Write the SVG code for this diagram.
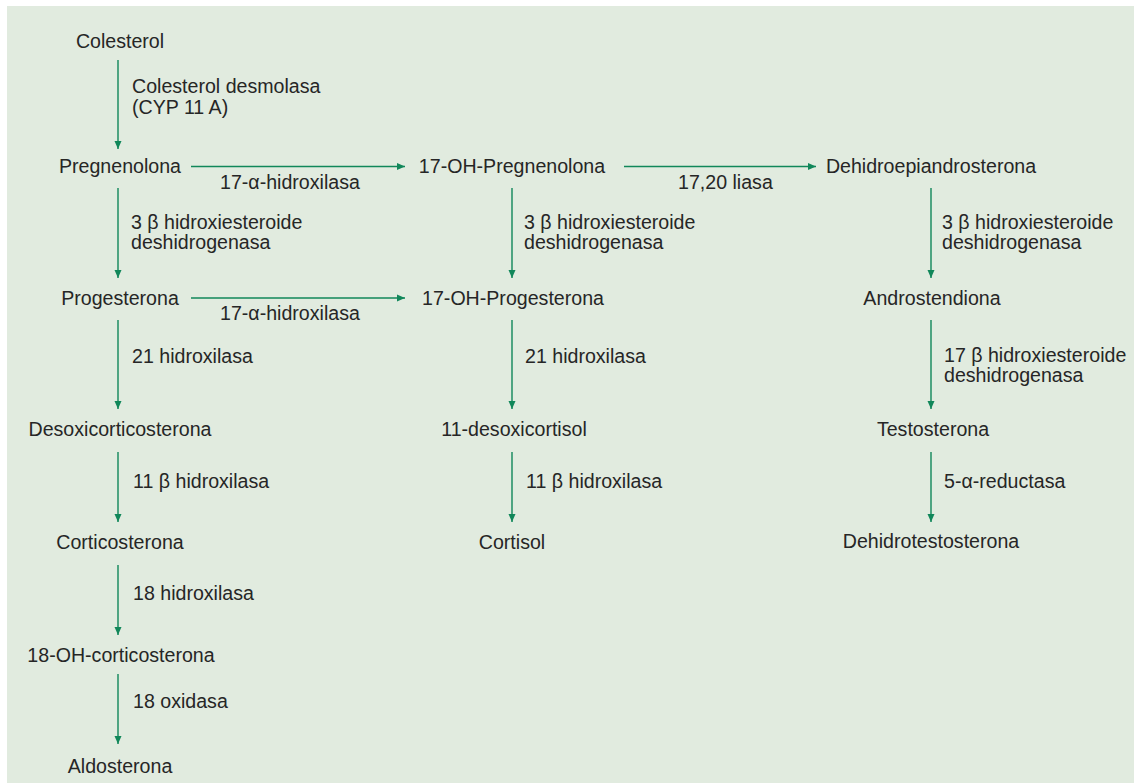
<svg xmlns="http://www.w3.org/2000/svg" width="1134" height="783" viewBox="0 0 1134 783">
<style>
  .n { font-family: "Liberation Sans", Arial, sans-serif; font-size: 19.6px; fill: #262626; text-anchor: middle; }
  .l { font-family: "Liberation Sans", Arial, sans-serif; font-size: 19.6px; fill: #262626; }
  .c { stroke: #11875a; stroke-width: 1.4; fill: none; marker-end: url(#ah); }
</style>
<defs>
  <marker id="ah" markerUnits="userSpaceOnUse" markerWidth="10" markerHeight="10" viewBox="0 0 10 10" refX="9" refY="5" orient="auto">
    <path d="M1,1.5 L9,5 L1,8.5 Z" fill="#11875a"/>
  </marker>
</defs>
<rect x="7" y="6" width="1127" height="777" fill="#e1ebdf"/>
<g id="connectors">
  <line class="c" x1="118" y1="60" x2="118" y2="149"/>
  <line class="c" x1="118" y1="188" x2="118" y2="278"/>
  <line class="c" x1="118" y1="320" x2="118" y2="409"/>
  <line class="c" x1="118" y1="452" x2="118" y2="522"/>
  <line class="c" x1="118" y1="565" x2="118" y2="635"/>
  <line class="c" x1="118" y1="674" x2="118" y2="744"/>
  <line class="c" x1="512" y1="188" x2="512" y2="278"/>
  <line class="c" x1="512" y1="320" x2="512" y2="409"/>
  <line class="c" x1="512" y1="452" x2="512" y2="522"/>
  <line class="c" x1="931" y1="188" x2="931" y2="278"/>
  <line class="c" x1="931" y1="320" x2="931" y2="409"/>
  <line class="c" x1="931" y1="452" x2="931" y2="522"/>
  <line class="c" x1="191" y1="166.5" x2="405" y2="166.5"/>
  <line class="c" x1="191" y1="298" x2="405" y2="298"/>
  <line class="c" x1="624" y1="166.5" x2="816" y2="166.5"/>
  <text class="l" x="132" y="93">Colesterol desmolasa</text>
  <text class="l" x="132" y="114">(CYP 11 A)</text>
  <text class="l" x="220" y="189">17-α-hidroxilasa</text>
  <text class="l" x="220" y="320">17-α-hidroxilasa</text>
  <text class="l" x="678" y="189">17,20 liasa</text>
  <text class="l" x="131" y="229">3 β hidroxiesteroide</text>
  <text class="l" x="131" y="249">deshidrogenasa</text>
  <text class="l" x="524" y="229">3 β hidroxiesteroide</text>
  <text class="l" x="524" y="249">deshidrogenasa</text>
  <text class="l" x="942" y="229">3 β hidroxiesteroide</text>
  <text class="l" x="942" y="249">deshidrogenasa</text>
  <text class="l" x="132" y="363">21 hidroxilasa</text>
  <text class="l" x="525" y="363">21 hidroxilasa</text>
  <text class="l" x="944" y="362">17 β hidroxiesteroide</text>
  <text class="l" x="944" y="382">deshidrogenasa</text>
  <text class="l" x="133" y="488">11 β hidroxilasa</text>
  <text class="l" x="526" y="488">11 β hidroxilasa</text>
  <text class="l" x="944" y="488">5-α-reductasa</text>
  <text class="l" x="133" y="600">18 hidroxilasa</text>
  <text class="l" x="133" y="708">18 oxidasa</text>
</g>
<g id="colesterol"><text class="n" x="120" y="48">Colesterol</text></g>
<g id="pregnenolona"><text class="n" x="120" y="173">Pregnenolona</text></g>
<g id="progesterona"><text class="n" x="120" y="305">Progesterona</text></g>
<g id="desoxicorticosterona"><text class="n" x="120" y="436">Desoxicorticosterona</text></g>
<g id="corticosterona"><text class="n" x="120" y="549">Corticosterona</text></g>
<g id="oh18-corticosterona"><text class="n" x="121" y="662">18-OH-corticosterona</text></g>
<g id="aldosterona"><text class="n" x="120" y="773">Aldosterona</text></g>
<g id="oh17-pregnenolona"><text class="n" x="512" y="173">17-OH-Pregnenolona</text></g>
<g id="oh17-progesterona"><text class="n" x="513" y="305">17-OH-Progesterona</text></g>
<g id="desoxicortisol11"><text class="n" x="514" y="436">11-desoxicortisol</text></g>
<g id="cortisol"><text class="n" x="512" y="549">Cortisol</text></g>
<g id="dhea"><text class="n" x="931" y="173">Dehidroepiandrosterona</text></g>
<g id="androstendiona"><text class="n" x="932" y="305">Androstendiona</text></g>
<g id="testosterona"><text class="n" x="933" y="436">Testosterona</text></g>
<g id="dht"><text class="n" x="931" y="548">Dehidrotestosterona</text></g>
</svg>
